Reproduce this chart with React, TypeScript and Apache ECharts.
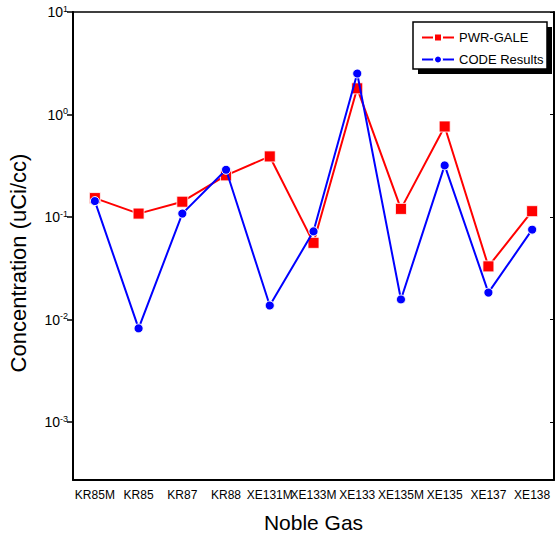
import React, { useEffect, useRef } from "react";
import * as echarts from "echarts";

const categories = ["KR85M", "KR85", "KR87", "KR88", "XE131M", "XE133M", "XE133", "XE135M", "XE135", "XE137", "XE138"];
const pwrGale = [0.153, 0.108, 0.141, 0.255, 0.39, 0.056, 1.8, 0.12, 0.764, 0.033, 0.114];
const codeResults = [0.143, 0.0082, 0.108, 0.289, 0.0137, 0.0725, 2.51, 0.0157, 0.319, 0.0183, 0.0753];
const decadeTicks = [0.001, 0.01, 0.1, 1, 10];
const seriesNames = ["PWR-GALE", "CODE Results"];

const FONT = "'Liberation Sans', Arial, sans-serif";

export default function App() {
  const ref = useRef<HTMLDivElement>(null);
  useEffect(() => {
    if (!ref.current) return;
    const chart = echarts.init(ref.current, null, { renderer: "svg" });
    const isDecade = (v: number) => {
      const e = Math.log10(v);
      return Math.abs(e - Math.round(e)) < 1e-6;
    };
    chart.setOption({
      animation: false,
      backgroundColor: "#fff",
      textStyle: { fontFamily: FONT },
      grid: { left: 73, right: 2, top: 12, bottom: 54, containLabel: false, outerBoundsMode: "none" },
      legend: {
        data: seriesNames,
        orient: "vertical",
        left: 416,
        top: 26,
        itemGap: 9,
        itemWidth: 32,
        itemHeight: 10,
        z: 10,
        textStyle: { fontFamily: FONT, fontSize: 13, color: "#000" },
      },
      graphic: [
        { type: "rect", z: 5, shape: { x: 418, y: 27, width: 134, height: 47 }, style: { fill: "#000" } },
        { type: "rect", z: 6, shape: { x: 413, y: 22, width: 134, height: 47 }, style: { fill: "#fff", stroke: "#000", lineWidth: 1.5 } },
      ],
      xAxis: [
        {
          type: "category",
          data: categories,
          boundaryGap: true,
          name: "Noble Gas",
          nameLocation: "middle",
          nameGap: 32,
          nameTextStyle: { fontFamily: FONT, fontSize: 21, color: "#000" },
          axisLine: { lineStyle: { color: "#000", width: 2 } },
          axisTick: { inside: true, alignWithLabel: true, length: 4, lineStyle: { color: "#000", width: 1 } },
          axisLabel: { interval: 0, margin: 9, fontFamily: FONT, fontSize: 12, color: "#000" },
          splitLine: { show: false },
        },
        {
          type: "category",
          data: categories,
          position: "top",
          boundaryGap: true,
          axisLine: { lineStyle: { color: "#000", width: 1.5 } },
          axisTick: { inside: true, alignWithLabel: true, length: 3, lineStyle: { color: "#000", width: 1 } },
          axisLabel: { show: false },
          splitLine: { show: false },
        },
      ],
      yAxis: [
        {
          type: "log",
          logBase: 10,
          min: 0.000272,
          max: 10,
          name: "Concentration (uCi/cc)",
          nameLocation: "middle",
          nameGap: 44,
          nameRotate: 90,
          nameTextStyle: { fontFamily: FONT, fontSize: 22, color: "#000", padding: [0, 34, 0, 0] },
          axisLine: { show: true, lineStyle: { color: "#000", width: 2 } },
          axisTick: { show: true, inside: false, length: 6, customValues: decadeTicks, lineStyle: { color: "#000", width: 1.5 } },
          minorTick: { show: false },
          splitLine: { show: false },
          axisLabel: {
            customValues: decadeTicks,
            margin: 5,
            color: "#000",
            formatter: (v: number) => {
              if (!isDecade(v)) return "";
              const e = Math.round(Math.log10(v));
              return `{b|10}{s|${e}}`;
            },
            rich: {
              b: { fontFamily: FONT, fontSize: 14, color: "#000", lineHeight: 16 },
              s: { fontFamily: FONT, fontSize: 9, color: "#000", lineHeight: 16, verticalAlign: "top", padding: [0, 0, 6, 0] },
            },
          },
        },
        {
          type: "log",
          logBase: 10,
          min: 0.000272,
          max: 10,
          position: "right",
          axisLine: { show: true, lineStyle: { color: "#000", width: 2 } },
          axisTick: { show: true, inside: true, length: 4, customValues: decadeTicks, lineStyle: { color: "#000", width: 1 } },
          axisLabel: { show: false },
          minorTick: { show: false },
          splitLine: { show: false },
        },
      ],
      series: [
        {
          name: seriesNames[0],
          type: "line",
          data: pwrGale,
          symbol: "rect",
          symbolSize: 11,
          lineStyle: { color: "#ff0000", width: 2 },
          itemStyle: { color: "#ff0000", borderColor: "#fff", borderWidth: 0.8 },
          z: 3,
        },
        {
          name: seriesNames[1],
          type: "line",
          data: codeResults,
          symbol: "circle",
          symbolSize: 9,
          lineStyle: { color: "#0000ff", width: 2 },
          itemStyle: { color: "#0000ff", borderColor: "#fff", borderWidth: 1 },
          z: 4,
        },
      ],
    });
    return () => chart.dispose();
  }, []);
  return <div ref={ref} style={{ position: "fixed", left: 0, top: 0, width: 556, height: 534 }} />;
}
